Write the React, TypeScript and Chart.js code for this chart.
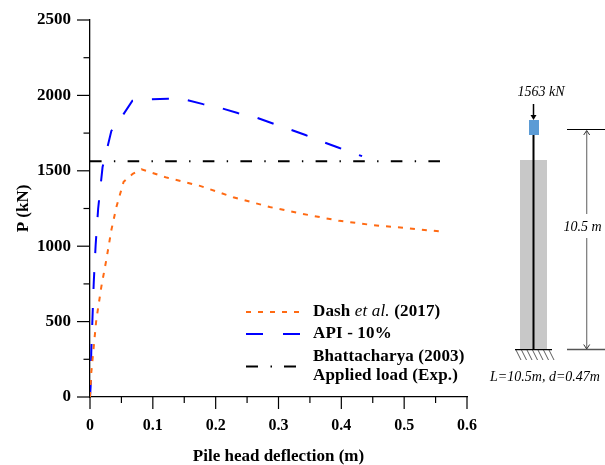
import React, { useEffect, useRef } from "react";
import { Chart, registerables } from "chart.js";

Chart.register(...registerables);

const dashDeflection = [0, 0.002, 0.01, 0.018, 0.026, 0.034, 0.042, 0.0535, 0.068, 0.082, 0.122, 0.175, 0.228, 0.286, 0.339, 0.397, 0.45, 0.509, 0.556];
const dashLoad = [0, 160, 510, 730, 910, 1107, 1260, 1427, 1480, 1510, 1455, 1400, 1325, 1260, 1214, 1168, 1140, 1118, 1098];
const apiDeflection = [0, 0.001, 0.002, 0.004, 0.006, 0.009, 0.013, 0.02, 0.028, 0.034, 0.0525, 0.0675, 0.098, 0.124, 0.153, 0.18, 0.209, 0.235, 0.265, 0.29, 0.318, 0.343, 0.37, 0.396, 0.424, 0.433];
const apiLoad = [0, 70, 295, 530, 763, 1010, 1250, 1525, 1660, 1765, 1870, 1965, 1975, 1978, 1970, 1942, 1915, 1883, 1853, 1815, 1775, 1737, 1693, 1653, 1610, 1597];
const expDeflection = [0, 0.557];
const expLoad = [1563, 1563];

const xLabel = "Pile head deflection (m)";
const yLabel = "P (kN)";
const seriesNames = ["Dash et al. (2017)", "API - 10%", "Bhattacharya (2003) Applied load (Exp.)"];

const zip = (xs: number[], ys: number[]) => xs.map((x, i) => ({ x, y: ys[i] }));
const SERIF = '"Liberation Serif", "Times New Roman", serif';

const tickMarks = {
  id: "tickMarks",
  afterDraw(chart: any) {
    const { ctx, scales } = chart;
    const xs = scales.x;
    const ys = scales.y;
    ctx.save();
    ctx.strokeStyle = "#000";
    ctx.lineWidth = 1.2;
    xs.ticks.forEach((t: any) => {
      const major = Math.round(t.value * 100) % 10 === 0;
      const p = xs.getPixelForValue(t.value);
      ctx.beginPath();
      ctx.moveTo(p, ys.bottom);
      ctx.lineTo(p, ys.bottom + (major ? 12 : 6));
      ctx.stroke();
    });
    ys.ticks.forEach((t: any) => {
      const major = t.value % 500 === 0;
      const p = ys.getPixelForValue(t.value);
      ctx.beginPath();
      ctx.moveTo(xs.left, p);
      ctx.lineTo(xs.left - (major ? 13 : 6.5), p);
      ctx.stroke();
    });
    ctx.restore();
  },
};

function Overlay() {
  const hatchTops = [516, 521.5, 527, 532.5, 538, 543.5, 549];
  const italic = { fontFamily: SERIF, fontStyle: "italic", fontSize: 14, fill: "#000" } as const;
  const bold = { fontFamily: SERIF, fontWeight: 700, fontSize: 17, letterSpacing: 0.15, fill: "#000" } as const;
  return (
    <svg width={605} height={465} style={{ position: "absolute", left: 0, top: 0 }}>
      {/* legend */}
      <line x1={246} x2={300} y1={312} y2={312} stroke="#ff6a13" strokeWidth={2} strokeDasharray="5 7" />
      <line x1={246} x2={263} y1={334} y2={334} stroke="#0000ff" strokeWidth={2} />
      <line x1={283} x2={300} y1={334} y2={334} stroke="#0000ff" strokeWidth={2} />
      <line x1={246} x2={258} y1={366.5} y2={366.5} stroke="#000" strokeWidth={2} />
      <line x1={270.5} x2={272} y1={366.5} y2={366.5} stroke="#000" strokeWidth={2} />
      <line x1={284} x2={296} y1={366.5} y2={366.5} stroke="#000" strokeWidth={2} />
      <text x={313} y={315.5} {...bold}>Dash <tspan fontStyle="italic" fontWeight={400}>et al.</tspan> (2017)</text>
      <text x={313} y={338} {...bold}>API - 10%</text>
      <text x={313} y={361} {...bold}>Bhattacharya (2003)</text>
      <text x={313} y={380} {...bold}>Applied load (Exp.)</text>

      {/* pile schematic */}
      <rect x={520} y={160} width={27} height={189.5} fill="#c8c8c8" />
      <line x1={533.5} x2={533.5} y1={135} y2={349} stroke="#000" strokeWidth={2} />
      <rect x={529} y={120} width={10} height={15} fill="#5b9bd5" />
      <line x1={533.5} x2={533.5} y1={104} y2={116} stroke="#000" strokeWidth={1.5} />
      <path d="M530.5 115 L536.5 115 L533.5 120 Z" fill="#000" />
      <line x1={567} x2={605} y1={129.5} y2={129.5} stroke="#000" strokeWidth={1} />
      <line x1={567} x2={605} y1={349.5} y2={349.5} stroke="#555" strokeWidth={1.3} />
      <line x1={586.7} x2={586.7} y1={131} y2={214} stroke="#777" strokeWidth={1.2} />
      <line x1={586.7} x2={586.7} y1={238} y2={348} stroke="#777" strokeWidth={1.2} />
      <path d="M583.7 135 L586.7 130.5 L589.7 135" fill="none" stroke="#333" strokeWidth={1} />
      <path d="M583.7 344.5 L586.7 349 L589.7 344.5" fill="none" stroke="#333" strokeWidth={1} />
      <line x1={515} x2={552} y1={349.7} y2={349.7} stroke="#000" strokeWidth={1.3} />
      {hatchTops.map((x) => (
        <line key={x} x1={x} x2={x + 5} y1={350} y2={360} stroke="#333" strokeWidth={0.8} />
      ))}
      <text x={541} y={96} textAnchor="middle" {...italic}>1563 kN</text>
      <text x={582.5} y={231} textAnchor="middle" {...italic}>10.5 m</text>
      <text x={545} y={381} textAnchor="middle" {...italic}>L=10.5m, d=0.47m</text>
    </svg>
  );
}

export default function App() {
  const ref = useRef<HTMLCanvasElement>(null);
  useEffect(() => {
    const titleFont = { family: SERIF, weight: "bold" as const, size: 17, lineHeight: 1 };
    const xTickFont = { family: SERIF, weight: "bold" as const, size: 16, lineHeight: 1 };
    const yTickFont = { family: SERIF, weight: "bold" as const, size: 17, lineHeight: 1 };
    const chart = new Chart(ref.current as HTMLCanvasElement, {
      type: "line",
      data: {
        datasets: [
          { label: seriesNames[0], data: zip(dashDeflection, dashLoad), borderColor: "#ff6a13", borderWidth: 2, borderDash: [5, 7], pointRadius: 0, tension: 0, fill: false },
          { label: seriesNames[1], data: zip(apiDeflection, apiLoad), borderColor: "#0000ff", borderWidth: 2, borderDash: [17, 19], pointRadius: 0, tension: 0, fill: false },
          { label: seriesNames[2], data: zip(expDeflection, expLoad), borderColor: "#000", borderWidth: 2, borderDash: [11.6, 12.3, 1.4, 12.3], pointRadius: 0, tension: 0, fill: false },
        ],
      },
      options: {
        responsive: false,
        animation: false,
        layout: { padding: { left: 0, top: 20, right: 138, bottom: 0 } },
        plugins: { legend: { display: false }, tooltip: { enabled: false } },
        scales: {
          x: {
            type: "linear",
            min: 0,
            max: 0.6,
            afterFit: (s: any) => { s.height = 68; s.paddingLeft = 0; s.paddingRight = 0; },
            grid: { display: false, drawTicks: false },
            border: { color: "#000", width: 1.3 },
            title: { display: true, text: xLabel, color: "#000", font: titleFont, padding: 0 },
            ticks: {
              stepSize: 0.05,
              color: "#000",
              font: xTickFont,
              padding: 21,
              autoSkip: false,
              maxRotation: 0,
              callback: (v: any) => {
                const n = Math.round(Number(v) * 100);
                return n % 10 === 0 ? (n === 0 ? "0" : (n / 100).toFixed(1)) : "";
              },
            },
          },
          y: {
            type: "linear",
            min: 0,
            max: 2500,
            afterFit: (s: any) => { s.width = 90; s.paddingTop = 0; s.paddingBottom = 0; },
            grid: { display: false, drawTicks: false },
            border: { color: "#000", width: 1.3 },
            title: { display: true, text: yLabel, color: "#000", font: titleFont, padding: { top: 15, bottom: 0 } },
            ticks: {
              stepSize: 250,
              color: "#000",
              font: yTickFont,
              padding: 19,
              autoSkip: false,
              callback: (v: any) => (Number(v) % 500 === 0 ? String(v) : ""),
            },
          },
        },
      },
      plugins: [tickMarks],
    } as any);
    return () => chart.destroy();
  }, []);
  return (
    <div style={{ position: "absolute", left: 0, top: 0, width: 605, height: 465, background: "#fff" }}>
      <canvas ref={ref} width={605} height={465} style={{ position: "absolute", left: 0, top: 0 }} />
      <Overlay />
    </div>
  );
}
